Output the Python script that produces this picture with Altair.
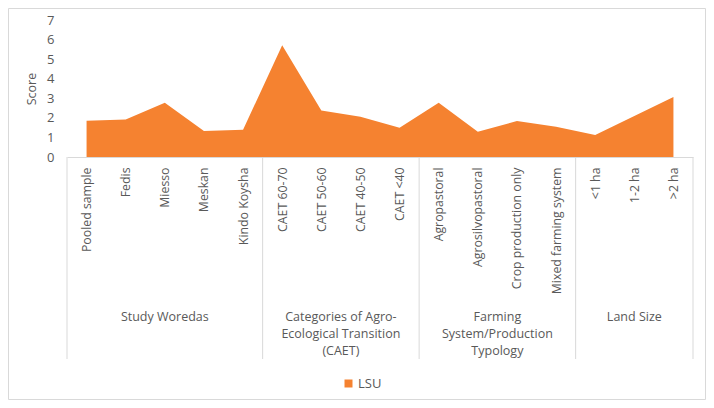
import altair as alt
import pandas as pd

categories = ["Pooled sample", "Fedis", "Miesso", "Meskan", "Kindo Koysha",
              "CAET 60-70", "CAET 50-60", "CAET 40-50", "CAET <40",
              "Agropastoral", "Agrosilvopastoral", "Crop production only", "Mixed farming system",
              "<1 ha", "1-2 ha", ">2 ha"]
category_group = ["Study Woredas"] * 5 + ["CAET"] * 4 + ["Farming"] * 4 + ["Land Size"] * 3
lsu = [1.85, 1.92, 2.77, 1.33, 1.39,
       5.71, 2.38, 2.06, 1.50,
       2.77, 1.29, 1.84, 1.55,
       1.12, 2.10, 3.06]
group_keys = ["Study Woredas", "CAET", "Farming", "Land Size"]
group_labels = ["Study Woredas",
                "Categories of Agro-\nEcological Transition\n(CAET)",
                "Farming\nSystem/Production\nTypology",
                "Land Size"]
series_name = "LSU"

ORANGE = "#F58230"
GRID = "#d9d9d9"
TXT = "#595959"
W, H = 626, 137

df = pd.DataFrame({"category": categories, "value": lsu, "series": series_name})

# group boundaries and centres (from group membership)
sizes = [category_group.count(g) for g in group_keys]
bounds = [0]
for s in sizes:
    bounds.append(bounds[-1] + s)
sep_df = pd.DataFrame({"pos": bounds})
lab_df = pd.DataFrame({"pos": [(bounds[i] + bounds[i + 1]) / 2 for i in range(len(group_keys))],
                       "label": group_labels})

area = alt.Chart(df).mark_area(opacity=1).encode(
    x=alt.X("category:N", sort=categories,
            scale=alt.Scale(type="point", padding=0.5),
            axis=alt.Axis(title=None, labelAngle=-90, labelColor=TXT, labelFontSize=12.3,
                          labelPadding=10, ticks=False, domainColor=GRID, domainWidth=1,
                          labelOverlap=False, labelLimit=200)),
    y=alt.Y("value:Q", scale=alt.Scale(domain=[0, 7], nice=False),
            axis=alt.Axis(title="Score", values=[0, 1, 2, 3, 4, 5, 6, 7], grid=False,
                          domain=False, ticks=False, labelPadding=13, labelColor=TXT,
                          labelFontSize=13, titleColor=TXT, titleFontSize=12.5,
                          titleFontWeight="normal", titlePadding=8)),
    color=alt.Color("series:N", scale=alt.Scale(domain=[series_name], range=[ORANGE]),
                    legend=alt.Legend(title=None, orient="none", legendX=275, legendY=357,
                                      symbolType="square", symbolSize=64, symbolStrokeWidth=0,
                                      labelColor=TXT, labelFontSize=13, padding=0,
                                      labelOffset=3)),
)

xq = alt.X("pos:Q", scale=alt.Scale(domain=[0, 16], nice=False, zero=False), axis=None)

seps = alt.Chart(sep_df).mark_rule(color=GRID, strokeWidth=1).encode(
    x=xq, y=alt.value(H), y2=alt.value(339))

glabels = alt.Chart(lab_df).mark_text(
    lineBreak="\n", baseline="top", align="center", fontSize=12.5, color=TXT, lineHeight=17
).encode(x=xq, y=alt.value(291), text="label:N")

border = alt.Chart(pd.DataFrame({"a": [0]})).mark_rect(
    filled=False, stroke=GRID, strokeWidth=1
).encode(x=alt.value(-58.5), x2=alt.value(638.5), y=alt.value(-11.5), y2=alt.value(379.5))

chart = alt.layer(area, seps, glabels, border).resolve_scale(x="independent").properties(
    width=W, height=H,
    autosize=alt.AutoSizeParams(type="none"),
    padding={"left": 59, "top": 12, "right": 13, "bottom": 243},
).configure(font="Open Sans", background="white").configure_view(stroke=None)

chart.save("out.html", embed_options={"renderer": "svg", "actions": False})
